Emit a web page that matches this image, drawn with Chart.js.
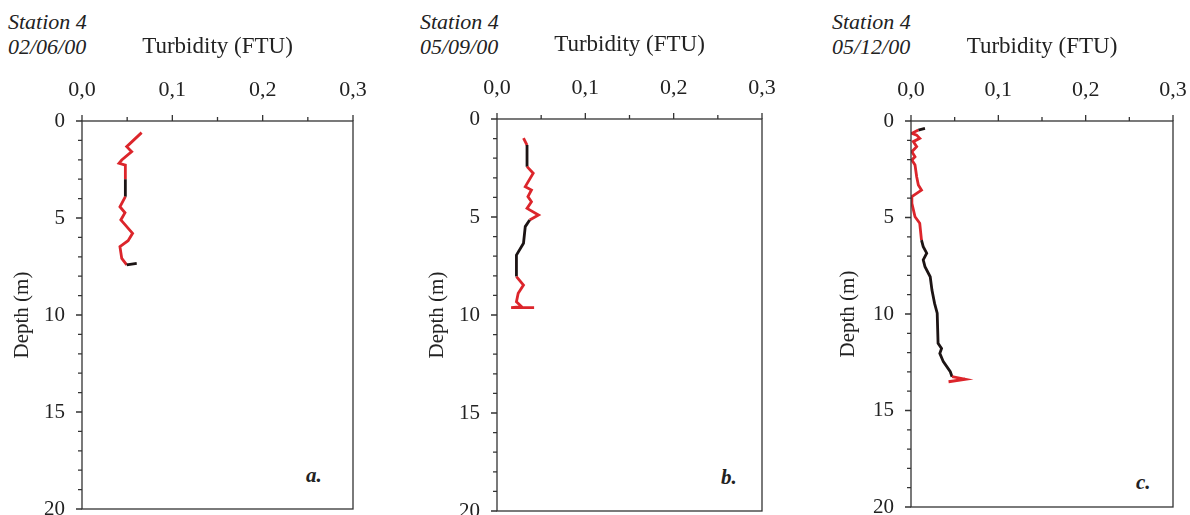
<!DOCTYPE html>
<html>
<head>
<meta charset="utf-8">
<script src="https://cdn.jsdelivr.net/npm/chart.js@4/dist/chart.umd.min.js"></script>
<style>
  body { margin: 0; background: #fff; width: 1190px; height: 515px; position: relative; overflow: hidden; font-family: "Liberation Serif", serif; color: #222; }
  canvas { position: absolute; top: 0; }
  .lbl { position: absolute; font-style: italic; font-size: 22px; line-height: 25px; white-space: nowrap; }
  .tag { position: absolute; font-style: italic; font-weight: bold; font-size: 21px; line-height: 24px; }
</style>
</head>
<body>
<div class="lbl" style="left:8px; top:9px;">Station 4</div>
<div class="lbl" style="left:8px; top:34px;">02/06/00</div>
<div class="lbl" style="left:420px; top:9px;">Station 4</div>
<div class="lbl" style="left:420px; top:34px;">05/09/00</div>
<div class="lbl" style="left:832px; top:9px;">Station 4</div>
<div class="lbl" style="left:832px; top:34px;">05/12/00</div>
<div class="tag" style="left:306px; top:463px;">a.</div>
<div class="tag" style="left:721px; top:465px;">b.</div>
<div class="tag" style="left:1136px; top:470px;">c.</div>

<canvas id="chartA" width="400" height="515" style="left:0px"></canvas>
<canvas id="chartB" width="400" height="515" style="left:410px"></canvas>
<canvas id="chartC" width="370" height="515" style="left:820px"></canvas>

<script>
// turbidity (FTU) vs depth (m)
const turbA = [0.066, 0.0495, 0.055, 0.044, 0.041, 0.048, 0.048, 0.048, 0.042, 0.0476, 0.043, 0.056, 0.051, 0.042, 0.044, 0.0495, 0.0606];
const depthA = [0.60, 1.32, 1.58, 2.01, 2.18, 2.27, 3.00, 3.90, 4.42, 4.73, 5.10, 5.79, 6.17, 6.48, 7.08, 7.42, 7.34];

const turbB = [0.030, 0.034, 0.034, 0.041, 0.032, 0.039, 0.035, 0.039, 0.034, 0.047, 0.037, 0.032, 0.030, 0.022, 0.022, 0.030, 0.024, 0.022, 0.028, 0.016, 0.042];
const depthB = [0.98, 1.33, 2.43, 2.77, 3.45, 3.62, 3.96, 4.22, 4.56, 4.90, 5.15, 5.49, 6.34, 6.94, 8.04, 8.47, 8.89, 9.32, 9.58, 9.62, 9.62];

const turbC = [0.016, 0.0084, 0.001, 0.0065, 0.010, 0.0026, 0.0065, 0.001, 0.0046, 0.001, 0.0046, 0.0065, 0.0084, 0.012, 0.001, 0.001, 0.0046, 0.010, 0.012, 0.014, 0.018, 0.014, 0.016, 0.022, 0.024, 0.027, 0.030, 0.031, 0.035, 0.033, 0.037, 0.045, 0.047, 0.062, 0.043];
const depthC = [0.38, 0.47, 0.64, 0.73, 0.90, 1.07, 1.33, 1.59, 1.85, 2.02, 2.28, 2.89, 3.32, 3.58, 3.92, 4.26, 4.96, 5.30, 6.17, 6.51, 6.85, 7.20, 7.55, 8.07, 8.76, 9.45, 9.96, 11.52, 11.78, 12.04, 12.47, 12.99, 13.25, 13.38, 13.51];

const xTicks = [0, 0.1, 0.2, 0.3];
const depthTicks = [0, 5, 10, 15, 20];

const RED = '#dc252b';
const DARK = '#1c1414';

// frame plus small outward tick marks
const framePlugin = {
    id: 'frame',
    afterDraw(chart) {
        const ctx = chart.ctx;
        const a = chart.chartArea;
        const xs = chart.scales.x;
        const ys = chart.scales.y;
        ctx.save();
        ctx.strokeStyle = '#333';
        ctx.lineWidth = 1.3;
        ctx.strokeRect(a.left, a.top, a.right - a.left, a.bottom - a.top);
        ctx.beginPath();
        for (let v = 0; v <= 0.3001; v += 0.05) {
            const px = xs.getPixelForValue(v);
            const len = xTicks.some(function (t) { return Math.abs(t - v) < 1e-6; }) ? 6 : 4;
            ctx.moveTo(px, a.top);
            ctx.lineTo(px, a.top - len);
        }
        for (let d = 0; d <= 20; d++) {
            const py = ys.getPixelForValue(d);
            const len = d % 5 === 0 ? 6 : 4;
            ctx.moveTo(a.left, py);
            ctx.lineTo(a.left - len, py);
        }
        ctx.stroke();
        ctx.restore();
    }
};

function makeProfile(id, turb, depth, darkRanges, box) {
    const pts = turb.map(function (t, i) { return { x: t, y: depth[i] }; });
    const isDark = function (ctx) {
        const d = (ctx.p0.parsed.y + ctx.p1.parsed.y) / 2;
        return darkRanges.some(function (r) { return d >= r[0] && d <= r[1]; });
    };
    new Chart(document.getElementById(id), {
        type: 'scatter',
        data: {
            datasets: [{
                data: pts,
                showLine: true,
                borderColor: RED,
                borderWidth: 2.8,
                pointRadius: 0,
                tension: 0,
                segment: {
                    borderColor: function (ctx) { return isDark(ctx) ? DARK : RED; }
                }
            }]
        },
        options: {
            responsive: false,
            animation: false,
            devicePixelRatio: 1,
            layout: { padding: { left: 0, right: box.right, top: 0, bottom: box.bottom } },
            plugins: { legend: { display: false }, tooltip: { enabled: false } },
            scales: {
                x: {
                    type: 'linear',
                    position: 'top',
                    min: 0,
                    max: 0.3,
                    afterBuildTicks: function (s) { s.ticks = xTicks.map(function (v) { return { value: v }; }); },
                    afterFit: function (s) { s.height = box.top; s.paddingLeft = 0; s.paddingRight = 0; },
                    grid: { display: false, drawTicks: false },
                    border: { display: false },
                    ticks: {
                        padding: 18,
                        color: '#222',
                        font: { family: 'Liberation Serif', size: 22 },
                        callback: function (v) { return v.toFixed(1).replace('.', ','); }
                    },
                    title: {
                        display: true,
                        text: 'Turbidity (FTU)',
                        color: '#222',
                        font: { family: 'Liberation Serif', size: 23 },
                        padding: { top: box.top - 88, bottom: 0 }
                    }
                },
                y: {
                    type: 'linear',
                    reverse: true,
                    min: 0,
                    max: 20,
                    afterBuildTicks: function (s) { s.ticks = depthTicks.map(function (v) { return { value: v }; }); },
                    afterFit: function (s) { s.width = box.left; s.paddingTop = 0; s.paddingBottom = 0; },
                    grid: { display: false, drawTicks: false },
                    border: { display: false },
                    ticks: {
                        padding: 17,
                        color: '#222',
                        font: { family: 'Liberation Serif', size: 21 }
                    },
                    title: {
                        display: true,
                        text: 'Depth (m)',
                        color: '#222',
                        font: { family: 'Liberation Serif', size: 21 },
                        padding: { top: box.titleX, bottom: 0 }
                    }
                }
            }
        },
        plugins: [framePlugin]
    });
}

makeProfile('chartA', turbA, depthA, [[3.0, 3.9], [7.3, 7.45]], { left: 82, right: 47, top: 121, bottom: 6, titleX: 10 });
makeProfile('chartB', turbB, depthB, [[1.7, 2.3], [5.3, 7.6]], { left: 87, right: 48, top: 119, bottom: 4, titleX: 15 });
makeProfile('chartC', turbC, depthC, [[0.3, 0.5], [5.8, 13.3]], { left: 91, right: 17, top: 121, bottom: 8, titleX: 16 });
</script>
</body>
</html>
